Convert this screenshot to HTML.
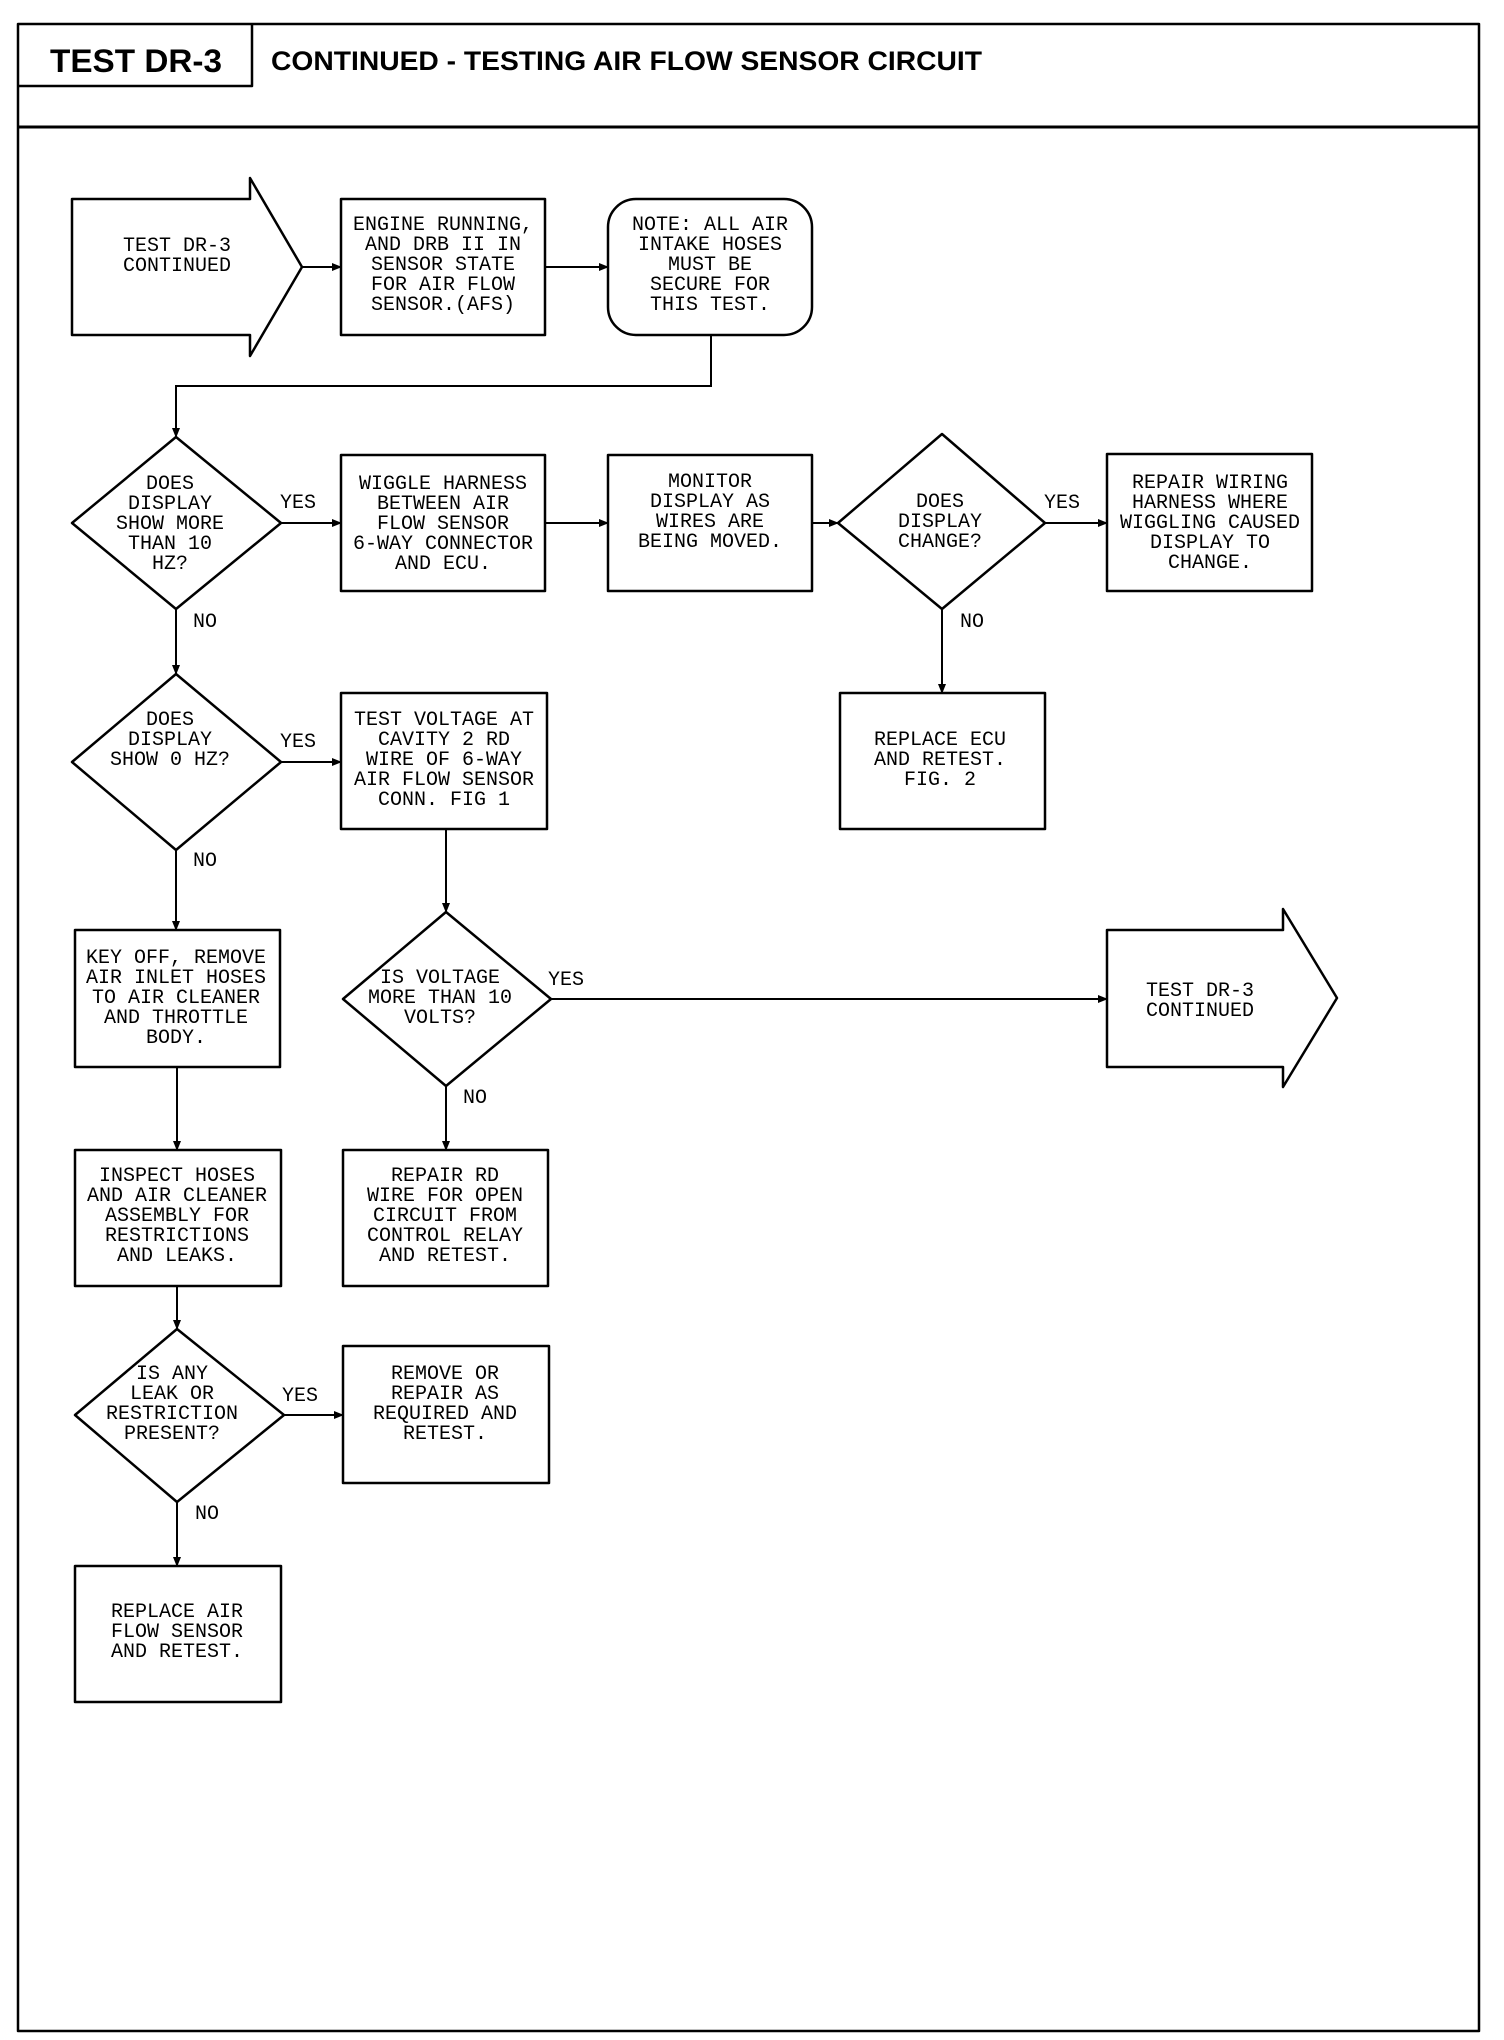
<!DOCTYPE html>
<html><head><meta charset="utf-8"><style>
html,body{margin:0;padding:0;background:#fff;}
svg{display:block;}
.t{font-family:"Liberation Mono",monospace;font-size:20px;fill:#000;text-anchor:middle;}
.l{font-family:"Liberation Mono",monospace;font-size:20px;fill:#000;}
.h{font-family:"Liberation Sans",sans-serif;font-weight:bold;fill:#000;}
</style></head><body>
<svg width="1504" height="2040" viewBox="0 0 1504 2040" xmlns="http://www.w3.org/2000/svg">
<defs><marker id="a" markerWidth="10" markerHeight="8" refX="9" refY="4" orient="auto" markerUnits="userSpaceOnUse"><path d="M0,0 L10,4 L0,8 Z" fill="#000"/></marker></defs>
<g fill="none" stroke="#000" stroke-width="2.5" stroke-linejoin="round">
<rect x="18" y="24" width="1461" height="2007"/>
<line x1="18" y1="127" x2="1479" y2="127" stroke-width="3"/>
<polyline points="18,86 252,86 252,24"/>
<polygon points="72,199 250,199 250,178 302,267 250,356 250,335 72,335"/>
<rect x="341" y="199" width="204" height="136"/>
<rect x="608" y="199" width="204" height="136" rx="28"/>
<polygon points="176,437 281,523 176,609 72,523"/>
<rect x="341" y="455" width="204" height="136"/>
<rect x="608" y="455" width="204" height="136"/>
<polygon points="942,434 1045,523 942,609 838,523"/>
<rect x="1107" y="454" width="205" height="137"/>
<rect x="840" y="693" width="205" height="136"/>
<polygon points="176,674 281,762 176,850 72,762"/>
<rect x="341" y="693" width="206" height="136"/>
<rect x="75" y="930" width="205" height="137"/>
<polygon points="446,912 551,999 446,1086 343,999"/>
<polygon points="1107,930 1283,930 1283,909 1337,998 1283,1087 1283,1067 1107,1067"/>
<rect x="75" y="1150" width="206" height="136"/>
<rect x="343" y="1150" width="205" height="136"/>
<polygon points="177,1329 284,1415 177,1502 75,1415"/>
<rect x="343" y="1346" width="206" height="137"/>
<rect x="75" y="1566" width="206" height="136"/>
</g>
<g fill="none" stroke="#000" stroke-width="2" marker-end="url(#a)">
<line x1="302" y1="267" x2="341" y2="267"/>
<line x1="545" y1="267" x2="608" y2="267"/>
<polyline points="711,335 711,386 176,386 176,437"/>
<line x1="281" y1="523" x2="341" y2="523"/>
<line x1="545" y1="523" x2="608" y2="523"/>
<line x1="812" y1="523" x2="838" y2="523"/>
<line x1="1045" y1="523" x2="1107" y2="523"/>
<line x1="942" y1="609" x2="942" y2="693"/>
<line x1="176" y1="609" x2="176" y2="674"/>
<line x1="281" y1="762" x2="341" y2="762"/>
<line x1="176" y1="850" x2="176" y2="930"/>
<line x1="446" y1="829" x2="446" y2="912"/>
<line x1="551" y1="999" x2="1107" y2="999"/>
<line x1="446" y1="1086" x2="446" y2="1150"/>
<line x1="177" y1="1067" x2="177" y2="1150"/>
<line x1="177" y1="1286" x2="177" y2="1329"/>
<line x1="284" y1="1415" x2="343" y2="1415"/>
<line x1="177" y1="1502" x2="177" y2="1566"/>
</g>
<text class="h" x="50" y="72" font-size="32" textLength="172" lengthAdjust="spacingAndGlyphs">TEST DR-3</text>
<text class="h" x="271" y="70" font-size="27" textLength="711" lengthAdjust="spacingAndGlyphs">CONTINUED - TESTING AIR FLOW SENSOR CIRCUIT</text>
<g class="t">
<text x="177" y="251">TEST DR-3</text><text x="177" y="271">CONTINUED</text>
<text x="443" y="230">ENGINE RUNNING,</text><text x="443" y="250">AND DRB II IN</text><text x="443" y="270">SENSOR STATE</text><text x="443" y="290">FOR AIR FLOW</text><text x="443" y="310">SENSOR.(AFS)</text>
<text x="710" y="230">NOTE: ALL AIR</text><text x="710" y="250">INTAKE HOSES</text><text x="710" y="270">MUST BE</text><text x="710" y="290">SECURE FOR</text><text x="710" y="310">THIS TEST.</text>
<text x="170" y="489">DOES</text><text x="170" y="509">DISPLAY</text><text x="170" y="529">SHOW MORE</text><text x="170" y="549">THAN 10</text><text x="170" y="569">HZ?</text>
<text x="443" y="489">WIGGLE HARNESS</text><text x="443" y="509">BETWEEN AIR</text><text x="443" y="529">FLOW SENSOR</text><text x="443" y="549">6-WAY CONNECTOR</text><text x="443" y="569">AND ECU.</text>
<text x="710" y="487">MONITOR</text><text x="710" y="507">DISPLAY AS</text><text x="710" y="527">WIRES ARE</text><text x="710" y="547">BEING MOVED.</text>
<text x="940" y="507">DOES</text><text x="940" y="527">DISPLAY</text><text x="940" y="547">CHANGE?</text>
<text x="1210" y="488">REPAIR WIRING</text><text x="1210" y="508">HARNESS WHERE</text><text x="1210" y="528">WIGGLING CAUSED</text><text x="1210" y="548">DISPLAY TO</text><text x="1210" y="568">CHANGE.</text>
<text x="940" y="745">REPLACE ECU</text><text x="940" y="765">AND RETEST.</text><text x="940" y="785">FIG. 2</text>
<text x="170" y="725">DOES</text><text x="170" y="745">DISPLAY</text><text x="170" y="765">SHOW 0 HZ?</text>
<text x="444" y="725">TEST VOLTAGE AT</text><text x="444" y="745">CAVITY 2 RD</text><text x="444" y="765">WIRE OF 6-WAY</text><text x="444" y="785">AIR FLOW SENSOR</text><text x="444" y="805">CONN. FIG 1</text>
<text x="176" y="963">KEY OFF, REMOVE</text><text x="176" y="983">AIR INLET HOSES</text><text x="176" y="1003">TO AIR CLEANER</text><text x="176" y="1023">AND THROTTLE</text><text x="176" y="1043">BODY.</text>
<text x="440" y="983">IS VOLTAGE</text><text x="440" y="1003">MORE THAN 10</text><text x="440" y="1023">VOLTS?</text>
<text x="1200" y="996">TEST DR-3</text><text x="1200" y="1016">CONTINUED</text>
<text x="177" y="1181">INSPECT HOSES</text><text x="177" y="1201">AND AIR CLEANER</text><text x="177" y="1221">ASSEMBLY FOR</text><text x="177" y="1241">RESTRICTIONS</text><text x="177" y="1261">AND LEAKS.</text>
<text x="445" y="1181">REPAIR RD</text><text x="445" y="1201">WIRE FOR OPEN</text><text x="445" y="1221">CIRCUIT FROM</text><text x="445" y="1241">CONTROL RELAY</text><text x="445" y="1261">AND RETEST.</text>
<text x="172" y="1379">IS ANY</text><text x="172" y="1399">LEAK OR</text><text x="172" y="1419">RESTRICTION</text><text x="172" y="1439">PRESENT?</text>
<text x="445" y="1379">REMOVE OR</text><text x="445" y="1399">REPAIR AS</text><text x="445" y="1419">REQUIRED AND</text><text x="445" y="1439">RETEST.</text>
<text x="177" y="1617">REPLACE AIR</text><text x="177" y="1637">FLOW SENSOR</text><text x="177" y="1657">AND RETEST.</text>
</g>
<g class="l">
<text x="280" y="508">YES</text><text x="193" y="627">NO</text>
<text x="1044" y="508">YES</text><text x="960" y="627">NO</text>
<text x="280" y="747">YES</text><text x="193" y="866">NO</text>
<text x="548" y="985">YES</text><text x="463" y="1103">NO</text>
<text x="282" y="1401">YES</text><text x="195" y="1519">NO</text>
</g>
</svg>
</body></html>
